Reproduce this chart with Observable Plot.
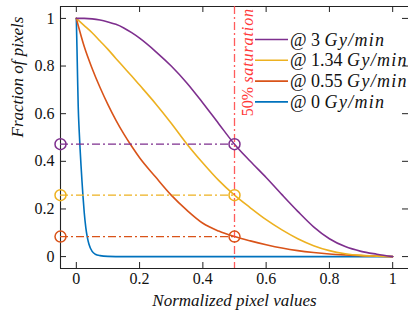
<!DOCTYPE html>
<html>
<head>
<meta charset="utf-8">
<script src="https://cdn.jsdelivr.net/npm/d3@7"></script>
<script src="https://cdn.jsdelivr.net/npm/@observablehq/plot@0.6"></script>
<style>
  html, body { margin: 0; padding: 0; background: #fff; }
  #chart svg text, #chart svg tspan { font-family: "Liberation Serif", "DejaVu Serif", serif; }
  g[aria-label="axis title"] text { letter-spacing: 1.6px; }
</style>
</head>
<body>
<div id="chart"></div>
<script>
// Dose rates (Gy/min), one curve each, with their line colours
const rates = ["3", "1.34", "0.55", "0"];
const colors = ["#7E2F8E", "#EDB120", "#D95319", "#0072BD"];

// Normalized pixel value grid shared by the three irradiated curves
const gridX = [0, 0.025, 0.05, 0.075, 0.1, 0.125, 0.15, 0.175, 0.2, 0.25, 0.3, 0.35, 0.4,
               0.45, 0.5, 0.55, 0.6, 0.65, 0.7, 0.75, 0.8, 0.85, 0.9, 0.95, 1];
// Fraction of pixels above each normalized value
const rate3   = [1, 1, 0.998, 0.993, 0.985, 0.975, 0.96, 0.94, 0.917, 0.862, 0.8, 0.728, 0.645,
                 0.558, 0.472, 0.4, 0.332, 0.26, 0.19, 0.125, 0.075, 0.042, 0.022, 0.01, 0];
const rate134 = [1, 0.97, 0.94, 0.905, 0.87, 0.832, 0.795, 0.758, 0.72, 0.643, 0.56, 0.472, 0.393,
                 0.32, 0.258, 0.205, 0.155, 0.112, 0.075, 0.046, 0.025, 0.012, 0.005, 0.002, 0];
const rate055 = [1, 0.882, 0.79, 0.71, 0.638, 0.573, 0.515, 0.463, 0.415, 0.335, 0.258, 0.194, 0.14,
                 0.107, 0.084, 0.066, 0.05, 0.036, 0.025, 0.017, 0.011, 0.007, 0.004, 0.002, 0];
// The unirradiated curve drops almost at once, so it has its own finer grid
const rate0X = [0, 0.002, 0.004, 0.006, 0.009, 0.012, 0.015, 0.018, 0.021, 0.025, 0.03, 0.035,
                0.04, 0.05, 0.06, 0.075, 0.1, 0.15, 1];
const rate0Y = [1, 0.88, 0.75, 0.63, 0.53, 0.45, 0.38, 0.315, 0.255, 0.185, 0.122, 0.08,
                0.052, 0.022, 0.01, 0.004, 0.001, 0, 0];

// Fraction of pixels reaching 50% saturation (3, 1.34, 0.55 Gy/min)
const satLevel = 0.5;
const satFractions = [0.472, 0.258, 0.084];

const xTicks = [0, 0.2, 0.4, 0.6, 0.8, 1];
const yTicks = [0, 0.2, 0.4, 0.6, 0.8, 1];
const xDomain = [-0.05, 1.05];
const yDomain = [-0.05, 1.05];

const seriesY = [rate3, rate134, rate055];
const curves = rates.map((rate, i) => ({
  rate,
  color: colors[i],
  points: i < 3
    ? gridX.map((x, j) => ({x, y: seriesY[i][j]}))
    : rate0X.map((x, j) => ({x, y: rate0Y[j]}))
}));

const satRows = satFractions.map((y, i) => ({y, color: colors[i]}));
const dashDot = "8,3,2,3";
const serif = "'Liberation Serif', 'DejaVu Serif', serif";

// Legend drawn inside the frame, top right
function legendMark(index, scales, values, dims) {
  const g = d3.create("svg:g").attr("font-size", 18).attr("fill", "#111").attr("text-anchor", "start");
  const x0 = dims.width - dims.marginRight - 153;
  rates.forEach((rate, i) => {
    const yy = dims.marginTop + 33.5 + i * 20.8;
    g.append("line")
      .attr("x1", x0).attr("x2", x0 + 33).attr("y1", yy).attr("y2", yy)
      .attr("stroke", colors[i]).attr("stroke-width", 1.6);
    const t = g.append("text").attr("x", x0 + 35).attr("y", yy).attr("dy", "0.34em");
    t.append("tspan").text(`@ ${rate} `);
    t.append("tspan").attr("font-style", "italic").attr("letter-spacing", "1.3px").text("Gy/min");
  });
  return g.node();
}

// Rotated label beside the 50% saturation line
function saturationLabel(index, scales, values, dims) {
  const g = d3.create("svg:g").attr("font-size", 16).attr("fill", "#ff3838");
  const x = scales.x(satLevel) + 13;
  const t = g.append("text")
    .attr("transform", `translate(${x},${dims.marginTop + 2}) rotate(-90)`)
    .attr("text-anchor", "end").attr("dy", "0.35em");
  t.append("tspan").text("50% ");
  t.append("tspan").attr("font-style", "italic").attr("letter-spacing", "0.9px").text("saturation");
  return g.node();
}

const W = 408, H = 320, mL = 60, mR = 0, mT = 6, mB = 52;
const frameW = W - mL - mR, frameH = H - mT - mB, tickLen = 6;

const marks = [
  // frame (left, top, bottom)
  Plot.ruleX([xDomain[0]], {stroke: "#222", strokeWidth: 1.1}),
  Plot.ruleY([yDomain[0], yDomain[1]], {stroke: "#222", strokeWidth: 1.1}),
  // inward ticks on all four sides
  Plot.tickX(xTicks, {x: d => d, insetTop: frameH - tickLen, stroke: "#222"}),
  Plot.tickX(xTicks, {x: d => d, insetBottom: frameH - tickLen, stroke: "#222"}),
  Plot.tickY(yTicks, {y: d => d, insetRight: frameW - tickLen, stroke: "#222"}),
  Plot.tickY(yTicks, {y: d => d, insetLeft: frameW - tickLen, stroke: "#222"}),
  // tick labels
  Plot.text(xTicks, {x: d => d, frameAnchor: "bottom", dy: 15, text: d => String(d), fontSize: 16}),
  Plot.text(yTicks, {y: d => d, frameAnchor: "left", dx: -6, textAnchor: "end", text: d => String(d), fontSize: 16}),
  // axis titles
  Plot.text(["Normalized pixel values"], {frameAnchor: "bottom", dy: 37, fontStyle: "italic", fontSize: 17, ariaLabel: "axis title"}),
  Plot.text(["Fraction of pixels"], {frameAnchor: "left", dx: -43, rotate: -90, fontStyle: "italic", fontSize: 17, ariaLabel: "axis title"}),
];

// curves, unirradiated first so the 3 Gy/min curve sits on top
for (const c of [...curves].reverse()) {
  marks.push(Plot.line(c.points, {x: "x", y: "y", stroke: c.color, strokeWidth: 1.6, curve: "monotone-x"}));
}

// 50% saturation read-off lines and markers
marks.push(
  Plot.ruleY(satRows, {y: "y", x1: xDomain[0], x2: satLevel, stroke: "color", strokeWidth: 1.3, strokeDasharray: dashDot}),
  Plot.ruleX([satLevel], {stroke: "#ff4040", strokeOpacity: 0.85, strokeWidth: 1.3, strokeDasharray: dashDot}),
  Plot.dot(satRows, {x: () => xDomain[0], y: "y", r: 5.5, stroke: "color", fill: "none", strokeWidth: 1.5}),
  Plot.dot(satRows, {x: () => satLevel, y: "y", r: 5.5, stroke: "color", fill: "none", strokeWidth: 1.5}),
  saturationLabel,
  legendMark
);

const chart = Plot.plot({
  width: W, height: H,
  marginLeft: mL, marginRight: mR, marginTop: mT, marginBottom: mB,
  x: {domain: xDomain, axis: null},
  y: {domain: yDomain, axis: null},
  color: {type: "identity"},
  style: {fontFamily: serif, fontSize: "16px", color: "#111", background: "#fff", overflow: "visible"},
  marks
});
document.getElementById("chart").append(chart);
</script>
</body>
</html>
